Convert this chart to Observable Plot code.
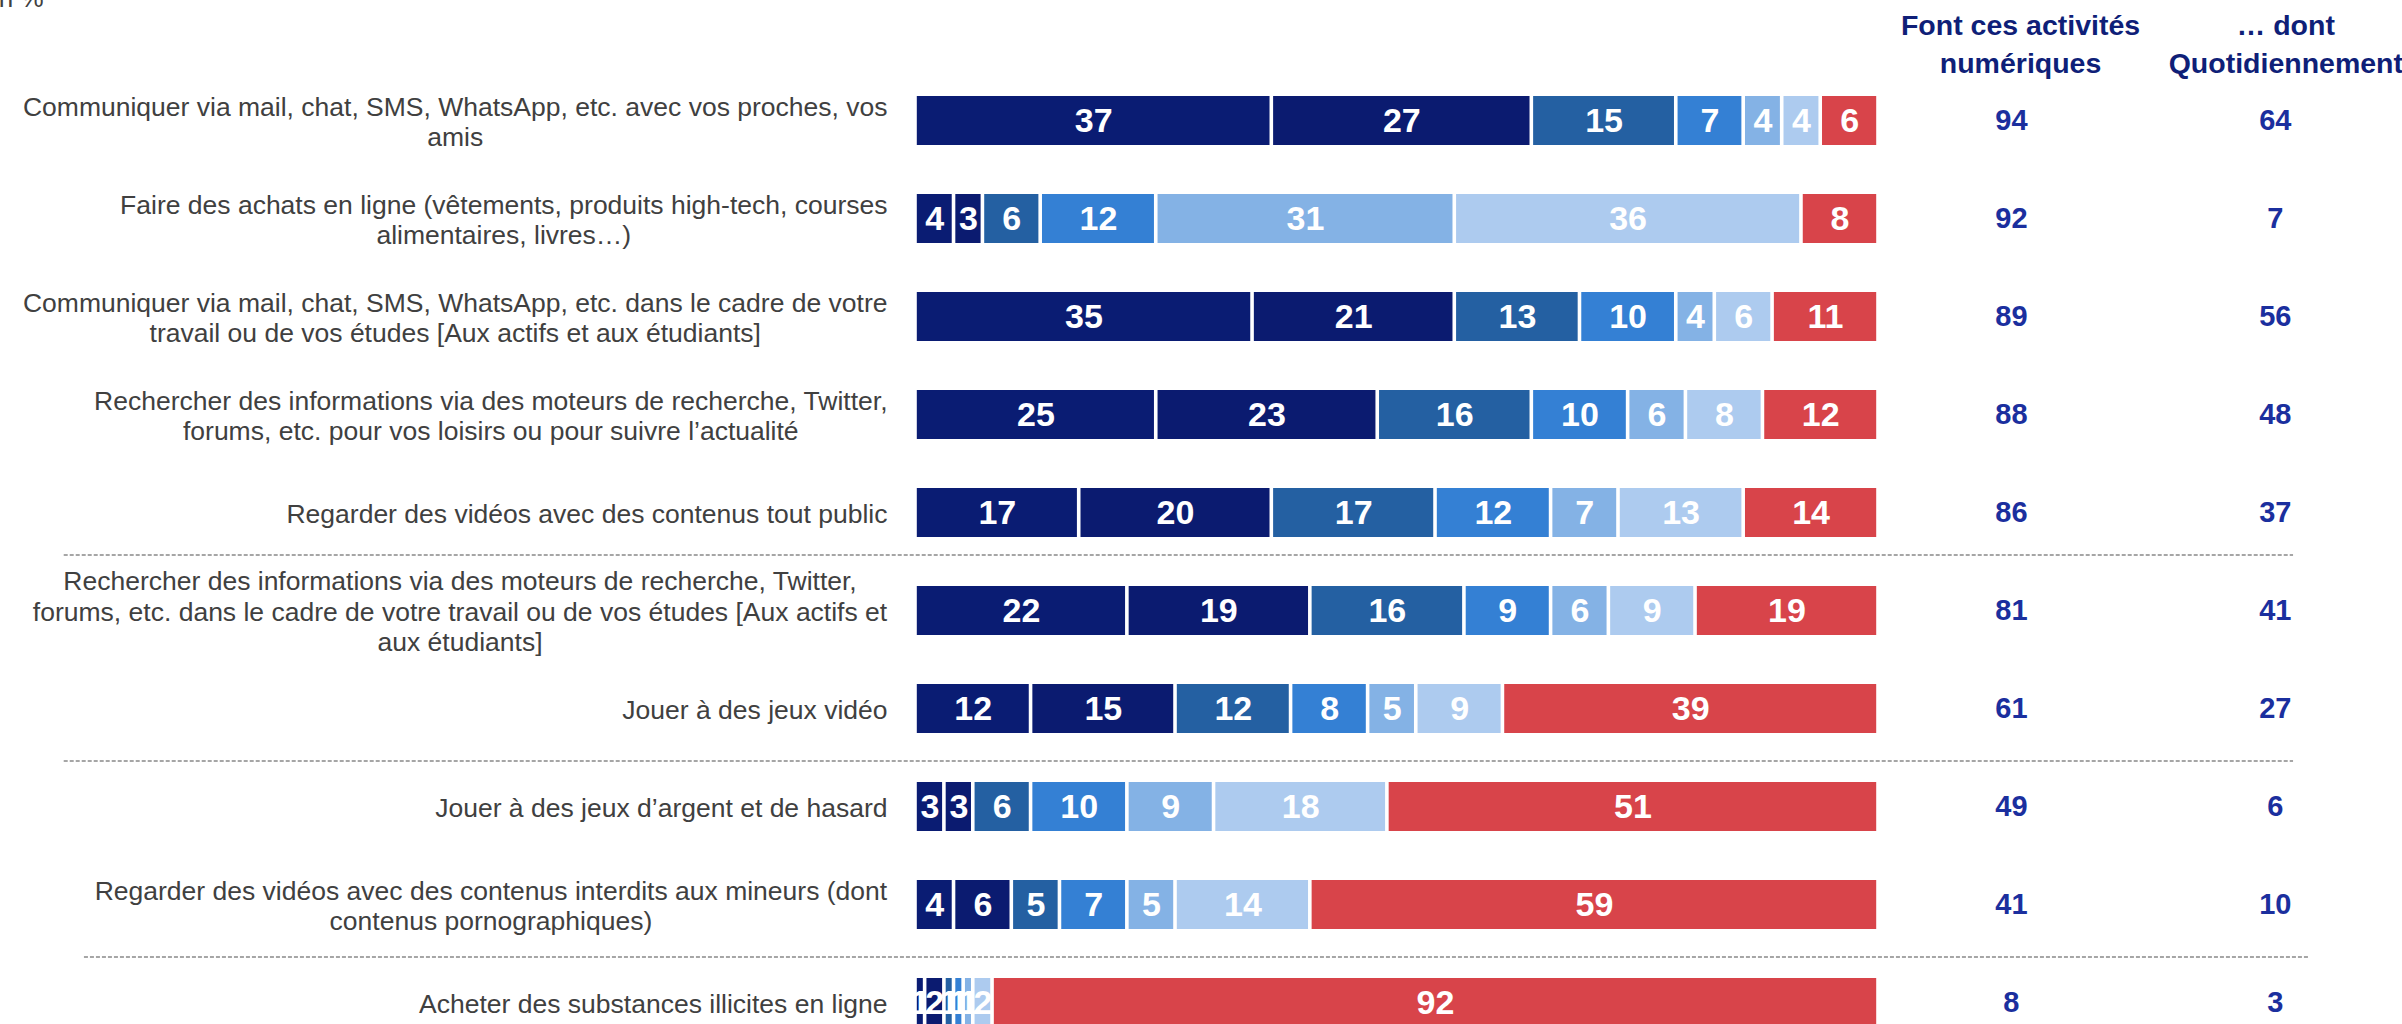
<!DOCTYPE html>
<html>
<head>
<meta charset="utf-8">
<script src="https://cdn.jsdelivr.net/npm/d3@7"></script>
<script src="https://cdn.jsdelivr.net/npm/@observablehq/plot@0.6"></script>
<style>
  html, body { margin: 0; padding: 0; overflow: hidden; background: #fff; }
  #chart svg { display: block; }
</style>
</head>
<body>
<div id="chart"></div>
<script>
// ---- Data ----
const activities = [
  "Communiquer via mail, chat, SMS, WhatsApp, etc. avec vos proches, vos\namis",
  "Faire des achats en ligne (vêtements, produits high-tech, courses\nalimentaires, livres…)",
  "Communiquer via mail, chat, SMS, WhatsApp, etc. dans le cadre de votre\ntravail ou de vos études [Aux actifs et aux étudiants]",
  "Rechercher des informations via des moteurs de recherche, Twitter,\nforums, etc. pour vos loisirs ou pour suivre l’actualité",
  "Regarder des vidéos avec des contenus tout public",
  "Rechercher des informations via des moteurs de recherche, Twitter,\nforums, etc. dans le cadre de votre travail ou de vos études [Aux actifs et\naux étudiants]",
  "Jouer à des jeux vidéo",
  "Jouer à des jeux d’argent et de hasard",
  "Regarder des vidéos avec des contenus interdits aux mineurs (dont\ncontenus pornographiques)",
  "Acheter des substances illicites en ligne"
];

const frequencies = [
  "Plusieurs fois par jour",
  "Une fois par jour",
  "Plusieurs fois par semaine",
  "Une fois par semaine",
  "Plusieurs fois par mois",
  "Moins souvent",
  "Jamais"
];

const frequencyColors = ["#0a1c73", "#0b1b70", "#2460a2", "#3480d4", "#84b2e5", "#adcbef", "#d8444a"];

const shares = [
  [37, 27, 15, 7, 4, 4, 6],
  [4, 3, 6, 12, 31, 36, 8],
  [35, 21, 13, 10, 4, 6, 11],
  [25, 23, 16, 10, 6, 8, 12],
  [17, 20, 17, 12, 7, 13, 14],
  [22, 19, 16, 9, 6, 9, 19],
  [12, 15, 12, 8, 5, 9, 39],
  [3, 3, 6, 10, 9, 18, 51],
  [4, 6, 5, 7, 5, 14, 59],
  [1, 2, 1, 1, 1, 2, 92]
];

const totalUsers = [94, 92, 89, 88, 86, 81, 61, 49, 41, 8];
const dailyUsers = [64, 7, 56, 48, 37, 41, 27, 6, 10, 3];

const headerTotal = "Font ces activités\nnumériques";
const headerDaily = "… dont\nQuotidiennement";
const unitNote = "En %";

// ---- Table built from the arrays ----
const rows = activities.flatMap((activity, i) =>
  frequencies.map((freq, j) => ({activity, freq, value: shares[i][j]}))
);
const summary = activities.map((activity, i) => ({activity, total: totalUsers[i], daily: dailyUsers[i]}));

const FONT = "'Liberation Sans', Arial, Helvetica, sans-serif";
const dash = {stroke: "#a6a6a6", strokeWidth: 2, strokeDasharray: "4,2"};

const chart = Plot.plot({
  width: 2402,
  height: 1080,
  marginLeft: 915,
  marginRight: 524,
  marginTop: 46,
  marginBottom: 3,
  style: {fontFamily: FONT, background: "white", overflow: "hidden"},
  x: {domain: [0, 100], axis: null},
  y: {domain: activities, padding: 0.5},
  color: {domain: frequencies, range: frequencyColors},
  marks: [
    // dashed separators
    Plot.ruleY([activities[5]], {dy: -56, x1: -88.4, x2: 143.1, ...dash}),
    Plot.ruleY([activities[7]], {dy: -46, x1: -88.4, x2: 143.1, ...dash}),
    Plot.ruleY([activities[9]], {dy: -46, x1: -86.3, x2: 144.8, ...dash}),
    // stacked bars
    Plot.barX(rows, Plot.stackX({x: "value", y: "activity", fill: "freq", insetLeft: 1.8, insetRight: 1.8})),
    Plot.text(rows, Plot.stackX({
      x: "value", y: "activity", z: "freq", text: "value",
      fill: "white", fontWeight: "bold", fontSize: 34
    })),
    // category labels
    Plot.axisY({tickSize: 0, tickPadding: 28, fontSize: 26.5, lineHeight: 1.15, label: null, fill: "#404040"}),
    // right columns
    Plot.text(summary, {y: "activity", x: 113.8, text: "total", fill: "#1b2f9e", fontWeight: "bold", fontSize: 29}),
    Plot.text(summary, {y: "activity", x: 141.2, text: "daily", fill: "#1b2f9e", fontWeight: "bold", fontSize: 29}),
    // column headers
    Plot.text([headerTotal], {x: 114.75, frameAnchor: "top", lineAnchor: "bottom", dy: 26, lineHeight: 1.3, fill: "#0f1f78", fontWeight: "bold", fontSize: 28.5}),
    Plot.text([headerDaily], {x: 142.3, frameAnchor: "top", lineAnchor: "bottom", dy: 26, lineHeight: 1.3, fill: "#0f1f78", fontWeight: "bold", fontSize: 28.5}),
    // unit note (clipped at the top as in the reference)
    Plot.text([unitNote], {frameAnchor: "top-left", textAnchor: "start", lineAnchor: "bottom", dx: -934, dy: -40, fill: "#404040", fontSize: 26})
  ]
});

document.getElementById("chart").appendChild(chart);

// center each multi-line label on its longest line, keeping the right edge aligned
chart.querySelectorAll('g[aria-label="y-axis tick label"] text').forEach(t => {
  const w = t.getBBox().width;
  t.setAttribute("text-anchor", "middle");
  t.setAttribute("transform", `translate(${-w / 2},0) ` + (t.getAttribute("transform") || ""));
});
</script>
</body>
</html>
